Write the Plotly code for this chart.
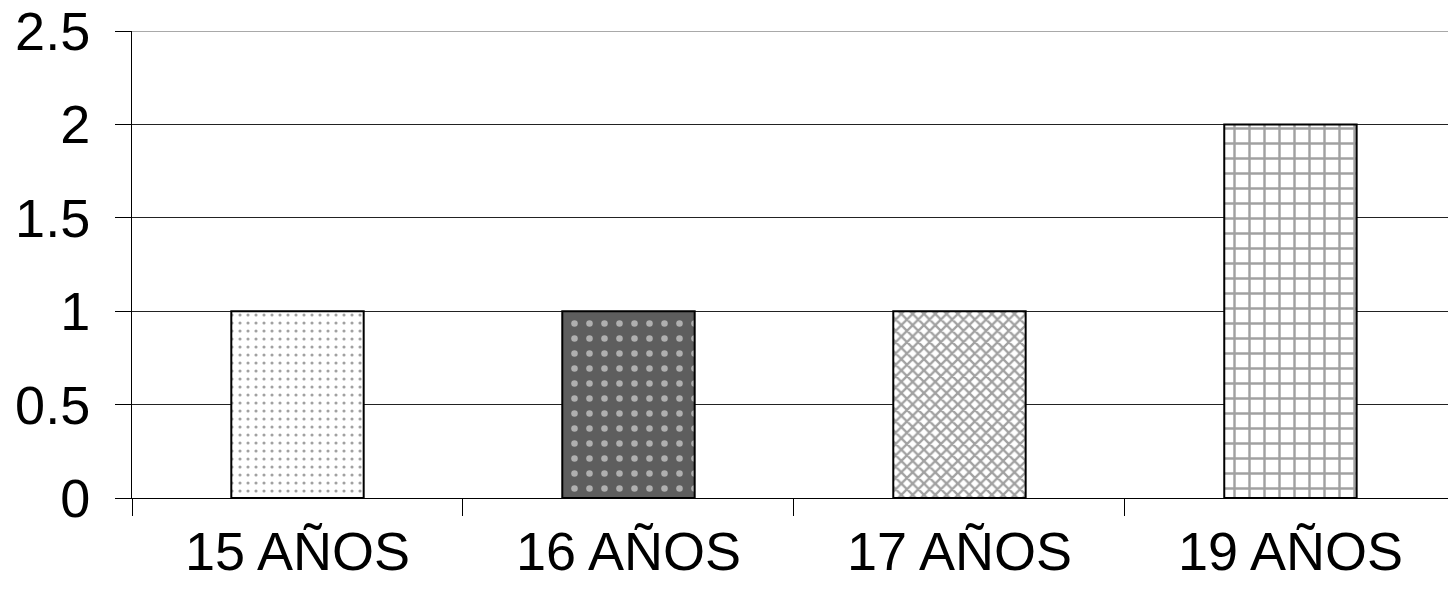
import plotly.graph_objects as go

categories = ["15 AÑOS", "16 AÑOS", "17 AÑOS", "19 AÑOS"]
values = [1, 1, 1, 2]
y_ticks = [0, 0.5, 1, 1.5, 2, 2.5]
y_tick_labels = ["0", "0.5", "1", "1.5", "2", "2.5"]

# per-bar fill textures
pattern_shapes = [".", ".", "x", "+"]
pattern_bg = ["white", "#5e5e5e", "white", "white"]
pattern_fg = ["#111111", "white", "#333333", "black"]
pattern_size = [8, 15, 8, 15]
pattern_solidity = [0.12, 0.15, 0.5, 0.3]

fig = go.Figure()
fig.add_trace(go.Bar(
    x=categories,
    y=values,
    width=0.4,
    marker=dict(
        color=pattern_bg,
        line=dict(color="black", width=2),
        pattern=dict(
            shape=pattern_shapes,
            bgcolor=pattern_bg,
            fgcolor=pattern_fg,
            size=pattern_size,
            solidity=pattern_solidity,
            fillmode="overlay",
        ),
    ),
    showlegend=False,
))

font_family = "Liberation Sans, Arial, sans-serif"

fig.update_layout(
    width=1448,
    height=601,
    margin=dict(l=132, r=0, t=31, b=103),
    paper_bgcolor="white",
    plot_bgcolor="white",
    font=dict(family=font_family, size=54, color="black"),
    bargap=0.6,
    xaxis=dict(
        type="category",
        range=[-0.5, 3.476],
        tickson="boundaries",
        ticks="outside",
        ticklen=17,
        tickwidth=1,
        tickcolor="black",
        ticklabelstandoff=6,
        showline=True,
        linecolor="black",
        linewidth=1,
        showgrid=False,
        tickfont=dict(size=54, family=font_family),
    ),
    yaxis=dict(
        range=[0, 2.5],
        tickvals=y_ticks,
        ticktext=y_tick_labels,
        ticks="outside",
        ticklen=16,
        tickwidth=1,
        tickcolor="black",
        ticklabelstandoff=14,
        showline=True,
        linecolor="black",
        linewidth=1,
        showgrid=True,
        gridcolor="#222222",
        gridwidth=1,
        zeroline=False,
        tickfont=dict(size=54, family=font_family),
    ),
)

# gridline at the top of the value range
fig.add_hline(y=y_ticks[-1], line=dict(color="#555555", width=1), layer="below")

fig.write_html("out.html")
